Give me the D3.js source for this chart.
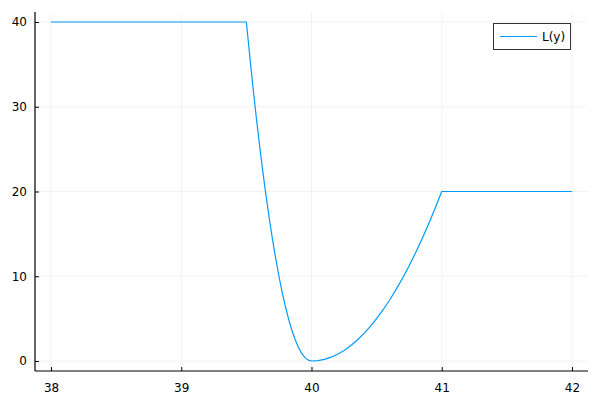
<!DOCTYPE html>
<html>
<head>
<meta charset="utf-8">
<script src="https://cdn.jsdelivr.net/npm/d3@7"></script>
<style>
  body { margin: 0; background: #fff; }
  text { font-family: "DejaVu Sans", sans-serif; }
</style>
</head>
<body>
<div id="chart"></div>
<script>
// Data
const xValues = [38, 39.5,
    39.525, 39.55, 39.575, 39.6, 39.625, 39.65, 39.675, 39.7, 39.725, 39.75,
    39.775, 39.8, 39.825, 39.85, 39.875, 39.9, 39.925, 39.95, 39.975, 40,
    40.05, 40.1, 40.15, 40.2, 40.25, 40.3, 40.35, 40.4, 40.45, 40.5,
    40.55, 40.6, 40.65, 40.7, 40.75, 40.8, 40.85, 40.9, 40.95, 41, 42];
const yValues = [40, 40,
    36.1, 32.4, 28.9, 25.6, 22.5, 19.6, 16.9, 14.4, 12.1, 10,
    8.1, 6.4, 4.9, 3.6, 2.5, 1.6, 0.9, 0.4, 0.1, 0,
    0.05, 0.2, 0.45, 0.8, 1.25, 1.8, 2.45, 3.2, 4.05, 5,
    6.05, 7.2, 8.45, 9.8, 11.25, 12.8, 14.45, 16.2, 18.05, 20, 20];
const xTicks = [38, 39, 40, 41, 42];
const yTicks = [0, 10, 20, 30, 40];
const seriesName = "L(y)";

const width = 600, height = 400;
const plotLeft = 35, plotRight = 588, plotTop = 12, plotBottom = 371;

const svg = d3.select("#chart")
    .append("svg")
    .attr("width", width)
    .attr("height", height);

const xScale = d3.scaleLinear()
    .domain([37.877, 42.123])
    .range([plotLeft, plotRight]);

const yScale = d3.scaleLinear()
    .domain([-1.18, 41.18])
    .range([plotBottom, plotTop]);

// Grid lines
svg.append("g")
    .selectAll("line")
    .data(xTicks)
    .enter()
    .append("line")
    .attr("x1", d => xScale(d))
    .attr("x2", d => xScale(d))
    .attr("y1", plotTop)
    .attr("y2", plotBottom)
    .attr("stroke", "#000")
    .attr("stroke-opacity", 0.05)
    .attr("stroke-width", 1);

svg.append("g")
    .selectAll("line")
    .data(yTicks)
    .enter()
    .append("line")
    .attr("x1", plotLeft)
    .attr("x2", plotRight)
    .attr("y1", d => yScale(d))
    .attr("y2", d => yScale(d))
    .attr("stroke", "#000")
    .attr("stroke-opacity", 0.05)
    .attr("stroke-width", 1);

// Axes
svg.append("g")
    .attr("transform", `translate(0,${plotBottom})`)
    .call(d3.axisBottom(xScale).tickValues(xTicks).tickSize(-4).tickPadding(12).tickFormat(d3.format("d")))
    .call(g => g.select(".domain").attr("d", `M${plotLeft},0H${plotRight}`).attr("stroke", "#000").attr("stroke-width", 1.2))
    .call(g => g.selectAll("text").attr("font-size", 12).attr("fill", "#000"));

svg.append("g")
    .attr("transform", `translate(${plotLeft},0)`)
    .call(d3.axisLeft(yScale).tickValues(yTicks).tickSize(-4).tickPadding(8).tickFormat(d3.format("d")))
    .call(g => g.select(".domain").attr("d", `M0,${plotTop}V${plotBottom}`).attr("stroke", "#000").attr("stroke-width", 1.2))
    .call(g => g.selectAll("text").attr("font-size", 12).attr("fill", "#000"));

// Line
const points = xValues.map((x, i) => [x, yValues[i]]);
svg.append("path")
    .datum(points)
    .attr("fill", "none")
    .attr("stroke", "#009af9")
    .attr("stroke-width", 1.2)
    .attr("stroke-linejoin", "round")
    .attr("d", d3.line().x(d => xScale(d[0])).y(d => yScale(d[1])));

// Legend
const legend = svg.append("g");
legend.append("rect")
    .attr("x", 493.5)
    .attr("y", 23.5)
    .attr("width", 77)
    .attr("height", 26)
    .attr("fill", "#fff")
    .attr("stroke", "#333")
    .attr("stroke-width", 1);
legend.append("line")
    .attr("x1", 500)
    .attr("x2", 537)
    .attr("y1", 36.5)
    .attr("y2", 36.5)
    .attr("stroke", "#009af9")
    .attr("stroke-width", 1.2);
legend.append("text")
    .attr("x", 542)
    .attr("y", 36.5)
    .attr("dy", ".35em")
    .attr("font-size", 12)
    .text(seriesName);
</script>
</body>
</html>
